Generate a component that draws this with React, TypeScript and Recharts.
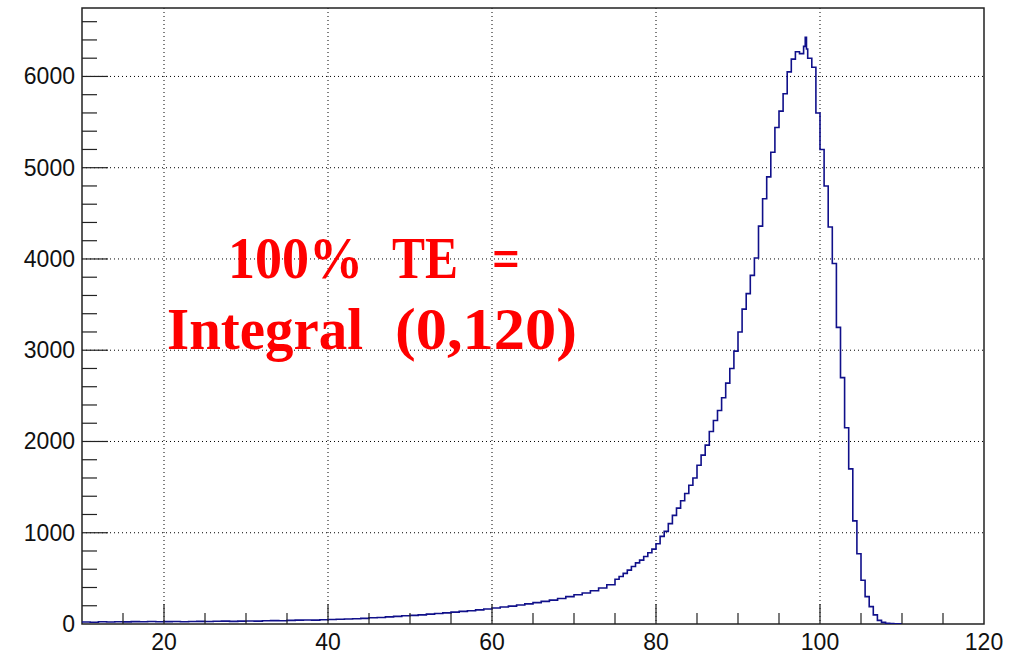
import { ComposedChart, Line, XAxis, YAxis, CartesianGrid, ReferenceArea } from 'recharts';

// lower bin edges and counts (1-unit bins in the tail, 0.5 around the peak)
const binEdges = [
  10, 11, 12, 13, 14, 15, 16, 17, 18, 19, 20, 21, 22, 23, 24, 25, 26, 27, 28, 29,
  30, 31, 32, 33, 34, 35, 36, 37, 38, 39, 40, 41, 42, 43, 44, 45, 46, 47, 48, 49,
  50, 51, 52, 53, 54, 55, 56, 57, 58, 59, 60, 61, 62, 63, 64, 65, 66, 67, 68, 69,
  70, 71, 72, 73, 74,
  75, 75.5, 76, 76.5, 77, 77.5, 78, 78.5, 79, 79.5, 80, 80.5, 81, 81.5, 82, 82.5,
  83, 83.5, 84, 84.5, 85, 85.5, 86, 86.5, 87, 87.5, 88, 88.5, 89, 89.5, 90, 90.5,
  91, 91.5, 92, 92.5, 93, 93.5, 94, 94.5, 95, 95.5, 96, 96.5, 97, 97.5, 98, 98.2,
  98.35, 98.5, 99, 99.5, 100, 100.5, 101, 101.5, 102, 102.5, 103, 103.5, 104, 104.5,
  105, 105.5, 106, 106.5, 107, 107.5, 108, 108.5, 109, 109.5, 110,
];

const binCounts = [
  22, 20, 24, 22, 25, 23, 26, 24, 27, 25, 26, 28, 25, 27, 29, 27, 30, 31, 29, 32,
  33, 31, 35, 37, 36, 40, 42, 44, 43, 47, 50, 52, 55, 58, 62, 68, 72, 78, 84, 90,
  95, 100, 108, 115, 122, 130, 138, 146, 155, 165, 175, 187, 196, 208, 220, 234, 248, 262, 280, 300,
  320, 340, 365, 395, 430,
  490, 520, 555, 590, 630, 670, 700, 740, 780, 820, 880, 960, 1015, 1100, 1190, 1270,
  1350, 1430, 1520, 1600, 1740, 1850, 1960, 2110, 2230, 2340, 2480, 2640, 2800, 2990, 3200, 3450,
  3620, 3820, 4010, 4360, 4660, 4900, 5170, 5440, 5620, 5810, 6050, 6190, 6270, 6250, 6330, 6430,
  6300, 6200, 6100, 5600, 5200, 4800, 4350, 3950, 3250, 2700, 2150, 1700, 1130, 770,
  480, 300, 190, 100, 40, 18, 8, 5, 3, 2, 2,
];

const xTicks = [10, 15, 20, 25, 30, 35, 40, 45, 50, 55, 60, 65, 70, 75, 80, 85, 90, 95, 100, 105, 110, 115, 120];
const xMajorTicks = [20, 40, 60, 80, 100, 120];
const xGridValues = [20, 40, 60, 80, 100];

const yTicks = [
  0, 200, 400, 600, 800, 1000, 1200, 1400, 1600, 1800, 2000, 2200, 2400, 2600, 2800, 3000, 3200,
  3400, 3600, 3800, 4000, 4200, 4400, 4600, 4800, 5000, 5200, 5400, 5600, 5800, 6000, 6200, 6400, 6600,
];
const yMajorTicks = [0, 1000, 2000, 3000, 4000, 5000, 6000];
const yGridValues = [1000, 2000, 3000, 4000, 5000, 6000];

// annotation words: [text, left x, width]
const noteLine1 = [['100%', 228, 135], ['TE', 392, 66], ['=', 492, 28]] as const;
const noteLine2 = [['Integral', 167, 196], ['(0,120)', 395, 182]] as const;

const data = binEdges.map((edge, i) => ({ edge, count: binCounts[i] }));

const labelFont = '"Liberation Sans", Arial, Helvetica, sans-serif';
const axisColor = '#222';

const XTick = (props: any) => {
  const { x, y, payload } = props;
  const major = xMajorTicks.includes(payload.value);
  const inside = payload.value > 10 && payload.value < 120;
  return (
    <g>
      {inside && <line x1={x} x2={x} y1={y} y2={y - (major ? 20 : 11)} stroke={axisColor} strokeWidth={1.2} />}
      {major && (
        <text x={x} y={y + 26} textAnchor="middle" fontSize={23} fontFamily={labelFont} fill="#111">
          {payload.value}
        </text>
      )}
    </g>
  );
};

const YTick = (props: any) => {
  const { x, y, payload } = props;
  const major = yMajorTicks.includes(payload.value);
  return (
    <g>
      {payload.value > 0 && <line x1={x} x2={x + (major ? 26 : 15)} y1={y} y2={y} stroke={axisColor} strokeWidth={1.2} />}
      {major && (
        <text x={x - 7} y={y + 8} textAnchor="end" fontSize={23} fontFamily={labelFont} fill="#111">
          {payload.value}
        </text>
      )}
    </g>
  );
};

export default function App() {
  return (
    <div style={{ position: 'absolute', left: 0, top: 0, width: 1028, height: 655, background: '#fff' }}>
      <ComposedChart width={1028} height={655} data={data} margin={{ top: 8, right: 44, bottom: 0, left: 0 }}>
        <CartesianGrid
          stroke="#000"
          strokeDasharray="1 3"
          horizontalValues={yGridValues}
          verticalValues={xGridValues}
        />
        <XAxis
          dataKey="edge"
          type="number"
          domain={[10, 120]}
          allowDataOverflow
          ticks={xTicks}
          interval={0}
          height={31}
          tickSize={0}
          tickMargin={0}
          tickLine={false}
          axisLine={false}
          tick={XTick}
        />
        <YAxis
          type="number"
          domain={[0, 6750]}
          allowDataOverflow
          ticks={yTicks}
          interval={0}
          width={82}
          tickSize={0}
          tickMargin={0}
          tickLine={false}
          axisLine={false}
          tick={YTick}
        />
        <ReferenceArea x1={10} x2={120} y1={0} y2={6750} fill="none" stroke={axisColor} strokeWidth={1.5} />
        <Line
          type="stepAfter"
          dataKey="count"
          stroke="#10108a"
          strokeWidth={1.6}
          dot={false}
          isAnimationActive={false}
        />
      </ComposedChart>
      <svg
        width={1028}
        height={655}
        style={{ position: 'absolute', left: 0, top: 0, pointerEvents: 'none' }}
      >
        <g fill="#ff0000" fontFamily='"Liberation Serif", "DejaVu Serif", serif' fontWeight="bold" fontSize={60}>
          {noteLine1.map(([word, x, w]) => (
            <text key={word} x={x} y={278} textLength={w} lengthAdjust="spacingAndGlyphs">
              {word}
            </text>
          ))}
          {noteLine2.map(([word, x, w]) => (
            <text key={word} x={x} y={349} textLength={w} lengthAdjust="spacingAndGlyphs">
              {word}
            </text>
          ))}
        </g>
      </svg>
    </div>
  );
}
